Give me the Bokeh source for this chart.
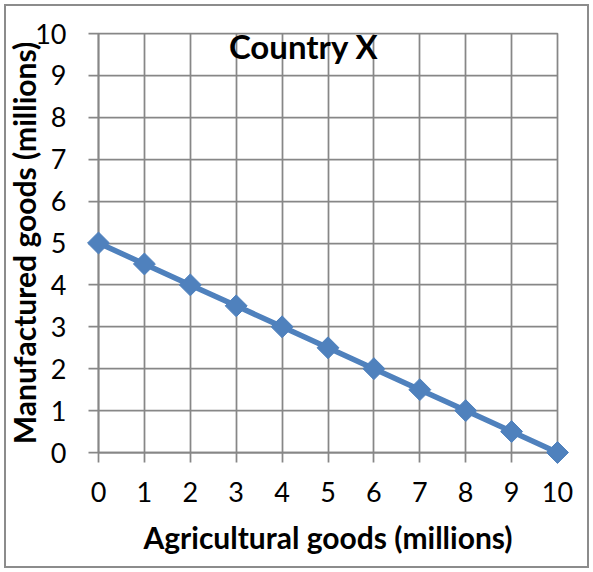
from bokeh.plotting import figure
from bokeh.models import Range1d, Label
from bokeh.embed import file_html
from bokeh.resources import INLINE

# ---- data ----
agricultural = [0, 1, 2, 3, 4, 5, 6, 7, 8, 9, 10]
manufactured = [5, 4.5, 4, 3.5, 3, 2.5, 2, 1.5, 1, 0.5, 0]
x_ticks = [0, 1, 2, 3, 4, 5, 6, 7, 8, 9, 10]
y_ticks = [0, 1, 2, 3, 4, 5, 6, 7, 8, 9, 10]
title_text = "Country X"
x_label = "Agricultural goods (millions)"
y_label = "Manufactured goods (millions)"

GRID = "#878787"
BLUE = "#4F81BD"
FONT = "Lato"

p = figure(
    frame_width=459, frame_height=419,
    x_range=Range1d(0, 10), y_range=Range1d(0, 10),
    output_backend="svg", toolbar_location=None,
    min_border_left=98, min_border_right=36,
    min_border_top=33, min_border_bottom=120,
)
# outer chart-area border (drawn by the page behind a transparent canvas border)
p.styles = {"outline": "2px solid #8c8c8c", "outline-offset": "-6px",
            "background-color": "white"}
p.background_fill_color = "white"
p.border_fill_color = None
p.outline_line_color = GRID
p.outline_line_width = 1.75

p.xgrid.ticker = x_ticks
p.ygrid.ticker = y_ticks
p.grid.grid_line_color = GRID
p.grid.grid_line_width = 1.75

for ax, ticks in ((p.xaxis, x_ticks), (p.yaxis, y_ticks)):
    ax.ticker = ticks
    ax.axis_line_color = GRID
    ax.axis_line_width = 1.75
    ax.major_tick_line_color = GRID
    ax.major_tick_line_width = 1.75
    ax.major_tick_in = 0
    ax.major_tick_out = 10
    ax.minor_tick_line_color = None
    ax.major_label_text_font = FONT
    ax.major_label_text_font_size = "27px"
    ax.major_label_text_color = "black"
    ax.axis_label_text_font = FONT
    ax.axis_label_text_font_style = "bold"
    ax.axis_label_text_font_size = "30px"
    ax.axis_label_text_color = "black"

p.xaxis.axis_label = x_label
p.yaxis.axis_label = y_label
p.xaxis.major_label_standoff = 19
p.xaxis.axis_label_standoff = 14
p.yaxis.major_label_standoff = 22
p.yaxis.axis_label_standoff = -10
p.yaxis.major_label_orientation = "horizontal"

p.line(agricultural, manufactured, line_color=BLUE, line_width=5.5)
r = p.scatter(agricultural, manufactured, marker="square", angle=0.7854,
              size=15.5, fill_color=BLUE, line_color=BLUE)
r.level = "overlay"

p.add_layout(Label(x=4.47, y=9.69, text=title_text, text_font=FONT,
                   text_font_style="bold", text_font_size="33px",
                   text_align="center", text_baseline="alphabetic",
                   text_color="black"))

open("out.html", "w").write(file_html(p, INLINE))
